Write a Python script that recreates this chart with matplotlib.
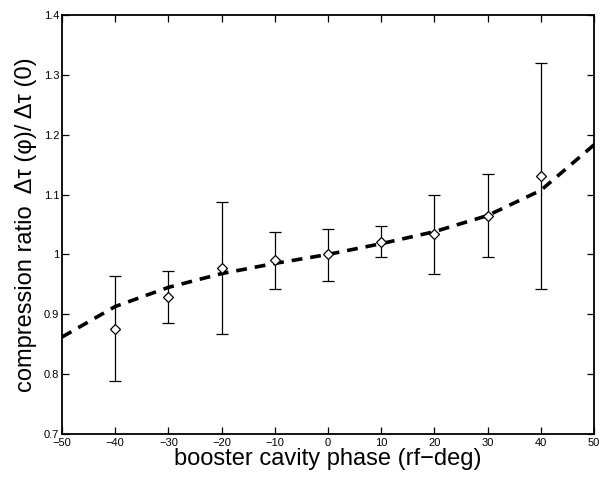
import matplotlib
matplotlib.use("Agg")
import matplotlib.pyplot as plt

phase = [-40, -30, -20, -10, 0, 10, 20, 30, 40]
ratio = [0.876, 0.929, 0.977, 0.990, 1.000, 1.021, 1.034, 1.065, 1.131]
err_hi = [0.964, 0.973, 1.087, 1.038, 1.042, 1.047, 1.099, 1.135, 1.319]
err_lo = [0.788, 0.885, 0.867, 0.942, 0.955, 0.995, 0.968, 0.995, 0.942]

fit_phase = [-50, -40, -30, -20, -10, 0, 10, 20, 30, 40, 50]
fit_ratio = [0.862, 0.913, 0.945, 0.968, 0.985, 1.000, 1.018, 1.038, 1.065, 1.107, 1.183]

xticks = [-50, -40, -30, -20, -10, 0, 10, 20, 30, 40, 50]
yticks = [0.7, 0.8, 0.9, 1.0, 1.1, 1.2, 1.3, 1.4]
yticklabels = ["0.7", "0.8", "0.9", "1", "1.1", "1.2", "1.3", "1.4"]

plt.rcParams['font.family'] = ['Liberation Sans', 'DejaVu Sans']

fig = plt.figure(figsize=(6.03, 4.78), dpi=100)
ax = fig.add_axes([0.1028, 0.092, 0.8822, 0.8766])

yerr = [[r - lo for r, lo in zip(ratio, err_lo)], [hi - r for r, hi in zip(ratio, err_hi)]]
ax.errorbar(phase, ratio, yerr=yerr, fmt='none', ecolor='black', elinewidth=0.9,
            capsize=4.5, capthick=0.9, zorder=2)
ax.plot(fit_phase, fit_ratio, color='black', linewidth=2.6, linestyle=(0, (3, 2.2)), zorder=3)
ax.plot(phase, ratio, linestyle='none', marker='D', markersize=5, markerfacecolor='white',
        markeredgecolor='black', markeredgewidth=0.9, zorder=4)

ax.set_xlim(-50, 50)
ax.set_ylim(0.7, 1.4)
ax.set_xticks(xticks)
ax.set_xticklabels([str(t).replace('-', '\u2212') for t in xticks])
ax.set_yticks(yticks)
ax.set_yticklabels(yticklabels)
ax.tick_params(direction='in', top=True, right=True, labelsize=8, length=5, width=0.9, pad=2)
ax.tick_params(axis='x', pad=3)
for s in ax.spines.values():
    s.set_linewidth(1.3)

ax.set_xlabel('booster cavity phase (rf\u2212deg)', fontsize=17, labelpad=0)
ax.set_ylabel('compression ratio  \u0394\u03c4 (\u03c6)/ \u0394\u03c4 (0)', fontsize=17, labelpad=5)

fig.savefig('out.png', dpi=100)
